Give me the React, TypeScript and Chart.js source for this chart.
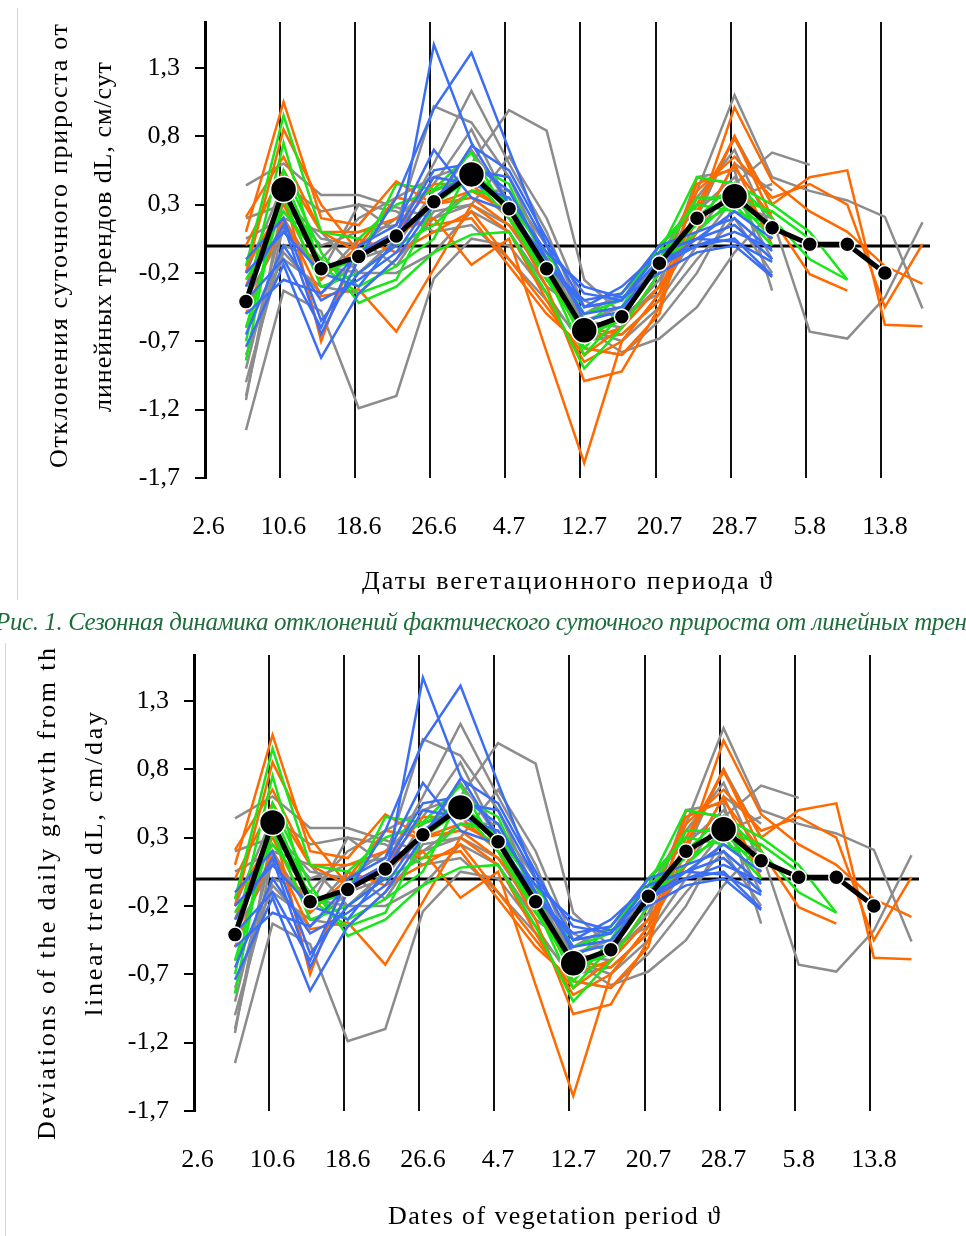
import React, { useEffect, useRef } from "react";
import { Chart, registerables } from "chart.js";

Chart.register(...registerables);

// Observation days counted from 2.6 (day 0), one point every 4 days
const DAYS = [4, 8, 12, 16, 20, 24, 28, 32, 36, 40, 44, 48, 52, 56, 60, 64, 68, 72, 76];
const TICK_DAYS = [0, 8, 16, 24, 32, 40, 48, 56, 64, 72];
const TICK_LABELS = ["2.6", "10.6", "18.6", "26.6", "4.7", "12.7", "20.7", "28.7", "5.8", "13.8"];
const Y_TICKS = [-1.7, -1.2, -0.7, -0.2, 0.3, 0.8, 1.3];
const BIG_POINT_DAYS = [8, 28, 40, 56];

// Mean deviation (black)
const mean = [-0.41, 0.41, -0.17, -0.08, 0.07, 0.32, 0.52, 0.27, -0.17, -0.62, -0.52, -0.13, 0.2, 0.36, 0.13, 0.01, 0.01, -0.2, null];

// Grey series
const gray1 = [0.44, 0.6, 0.37, 0.37, 0.28, 0.2, 0.3, 0.15, -0.25, -0.55, -0.6, -0.3, 0.1, 0.45, 0.68, 0.59, null, null, null];
const gray2 = [-1.35, -0.33, -0.48, -1.19, -1.1, -0.24, 0.05, 0.0, -0.35, -0.75, -0.8, -0.55, -0.2, 0.3, 0.2, -0.63, -0.68, -0.38, 0.17];
const gray3 = [-1.1, 0.15, -0.2, 0.3, 0.1, 0.6, 1.13, 0.6, 0.1, -0.55, -0.45, -0.1, 0.4, 1.1, 0.5, 0.4, 0.33, 0.21, -0.46];
const gray4 = [-1.0, 0.0, -0.1, 0.2, 0.35, 0.5, 0.6, 0.99, 0.84, -0.25, -0.5, -0.35, 0.1, 0.6, 0.4, null, null, null, null];
const gray5 = [0.2, 0.3, 0.0, 0.1, 0.15, 1.02, 0.9, 0.5, -0.1, -0.7, -0.6, -0.2, 0.2, 0.8, 0.3, null, null, null, null];
const gray6 = [-0.6, -0.1, -0.3, -0.35, -0.1, 0.2, 0.4, 0.4, 0.0, -0.6, -0.78, -0.68, -0.45, -0.05, 0.25, null, null, null, null];
const gray7 = [-0.9, 0.2, 0.1, -0.2, 0.05, 0.3, 0.7, 0.3, -0.2, -0.4, -0.55, -0.3, 0.5, 0.55, -0.33, null, null, null, null];
const gray8 = [-0.4, 0.1, -0.15, -0.2, -0.2, -0.05, 0.25, 0.1, -0.3, -0.5, -0.35, 0.0, 0.3, 0.4, -0.1, null, null, null, null];
const gray9 = [-1.13, 0.35, 0.05, 0.0, 0.2, 0.45, 0.85, 0.3, -0.05, -0.65, -0.55, -0.25, 0.35, 0.7, 0.1, null, null, null, null];
const gray10 = [-0.2, 0.45, 0.25, 0.3, 0.25, 0.1, 0.15, -0.1, -0.4, -0.7, -0.65, -0.4, 0.0, 0.35, 0.45, null, null, null, null];
const gray11 = [-0.8, -0.05, -0.35, -0.1, 0.0, 0.4, 0.5, 0.2, -0.1, -0.6, -0.7, -0.45, -0.1, 0.2, -0.2, null, null, null, null];
const gray12 = [0.05, 0.2, -0.25, 0.05, -0.15, 0.25, 0.3, 0.65, 0.2, -0.45, -0.4, 0.0, 0.25, 0.5, 0.05, null, null, null, null];

// Orange series
const orange1 = [0.1, 1.05, 0.2, 0.15, 0.47, 0.3, 0.35, 0.15, -0.2, -0.6, -0.65, -0.4, 0.2, 1.01, 0.47, 0.25, 0.1, -0.15, -0.28];
const orange2 = [0.21, 0.65, 0.1, -0.05, 0.1, 0.45, 0.45, 0.2, -0.3, -0.99, -0.92, -0.45, 0.3, 0.78, 0.3, 0.5, 0.55, -0.58, -0.59];
const orange3 = [-0.3, 0.4, -0.7, 0.05, -0.05, 0.1, 0.25, -0.1, -0.45, -0.8, -0.6, -0.2, 0.45, 0.57, 0.2, -0.21, -0.33, null, null];
const orange4 = [-0.5, 0.2, -0.37, -0.32, -0.63, -0.17, 0.3, 0.1, -0.4, -0.85, -0.7, -0.35, 0.4, 0.65, 0.35, 0.45, 0.3, -0.45, 0.01];
const orange5 = [-0.2, 0.85, 0.3, -0.05, 0.1, 0.2, -0.14, 0.05, -0.78, -1.59, -0.7, -0.35, 0.25, 0.8, 0.2, null, null, null, null];
const orange6 = [0.0, 0.55, 0.1, 0.1, 0.2, 0.15, 0.2, -0.15, -0.5, -0.75, -0.8, -0.5, 0.5, 0.45, 0.1, null, null, null, null];
const orange7 = [-0.15, 0.3, -0.25, 0.0, 0.35, 0.3, 0.4, 0.25, -0.2, -0.7, -0.6, -0.3, 0.1, 0.6, 0.0, null, null, null, null];

// Green series
const green1 = [-0.15, 0.95, 0.1, 0.05, 0.3, 0.4, 0.55, 0.3, -0.05, -0.5, -0.4, -0.05, 0.5, 0.45, 0.3, 0.1, -0.25, null, null];
const green2 = [-0.4, 0.75, -0.2, -0.1, 0.45, 0.41, 0.68, 0.2, -0.25, -0.65, -0.55, -0.1, 0.35, 0.35, 0.25, 0.05, null, null, null];
const green3 = [-0.84, 0.55, -0.05, -0.42, -0.3, -0.05, 0.08, 0.1, -0.35, -0.9, -0.6, -0.2, 0.2, 0.46, 0.2, -0.1, -0.25, null, null];
const green4 = [-0.6, 0.35, -0.3, -0.2, 0.0, 0.15, 0.4, 0.35, -0.1, -0.75, -0.45, 0.0, 0.3, 0.25, 0.15, null, null, null, null];
const green5 = [-0.25, 0.25, -0.1, -0.3, -0.15, 0.05, 0.6, 0.45, -0.15, -0.6, -0.35, -0.05, 0.15, 0.3, 0.0, null, null, null, null];
const green6 = [-0.7, 0.5, -0.15, -0.35, -0.25, 0.3, 0.5, 0.2, -0.2, -0.8, -0.5, -0.15, 0.1, 0.35, 0.05, null, null, null, null];

// Blue series
const blue1 = [-0.1, 0.2, -0.55, -0.2, 0.0, 1.47, 0.75, 0.3, -0.15, -0.4, -0.35, 0.0, 0.1, 0.2, -0.04, null, null, null, null];
const blue2 = [-0.3, 0.15, -0.65, -0.1, 0.35, 1.0, 1.41, 0.7, 0.0, -0.35, -0.4, -0.05, 0.05, 0.15, -0.1, null, null, null, null];
const blue3 = [-0.74, -0.14, -0.82, -0.35, -0.1, 0.3, 0.73, 0.55, 0.05, -0.45, -0.4, -0.1, 0.0, 0.05, -0.22, null, null, null, null];
const blue4 = [-0.5, -0.25, -0.35, -0.05, 0.1, 0.55, 0.6, 0.4, -0.1, -0.5, -0.45, -0.15, 0.05, 0.03, -0.12, null, null, null, null];
const blue5 = [-0.2, 0.1, -0.2, -0.3, 0.05, 0.5, 0.45, 0.35, -0.05, -0.3, -0.38, -0.2, -0.05, 0.0, -0.23, null, null, null, null];
const blue6 = [-0.65, 0.0, -0.4, -0.25, -0.05, 0.35, 0.55, 0.5, 0.0, -0.55, -0.48, -0.15, 0.0, 0.1, -0.02, null, null, null, null];
const blue7 = [-0.4, -0.1, -0.6, 0.0, 0.15, 0.7, 0.35, 0.25, -0.1, -0.45, -0.3, -0.05, 0.05, 0.25, 0.05, null, null, null, null];

const GRAY = [gray1, gray2, gray3, gray4, gray5, gray6, gray7, gray8, gray9, gray10, gray11, gray12];
const ORANGE = [orange1, orange2, orange3, orange4, orange5, orange6, orange7];
const GREEN = [green1, green2, green3, green4, green5, green6];
const BLUE = [blue1, blue2, blue3, blue4, blue5, blue6, blue7];

const SERIF = '"Liberation Serif", "Times New Roman", serif';

const toPts = (vals: (number | null)[]) =>
  vals
    .map((v, i) => (v == null ? null : { x: DAYS[i], y: v }))
    .filter((p): p is { x: number; y: number } => p !== null);

const refLines = {
  id: "refLines",
  beforeDatasetsDraw(chart: any) {
    const { ctx, chartArea: a, scales } = chart;
    const x = scales.x;
    const y = scales.y;
    ctx.save();
    ctx.strokeStyle = "#111";
    ctx.lineWidth = 2;
    TICK_DAYS.slice(1).forEach((d) => {
      const px = Math.round(x.getPixelForValue(d - 0.4));
      ctx.beginPath();
      ctx.moveTo(px, a.top);
      ctx.lineTo(px, a.bottom);
      ctx.stroke();
    });
    ctx.strokeStyle = "#000";
    ctx.lineWidth = 3;
    const py = Math.round(y.getPixelForValue(0));
    ctx.beginPath();
    ctx.moveTo(a.left, py);
    ctx.lineTo(a.right, py);
    ctx.stroke();
    ctx.restore();
  },
};

function makeConfig(): any {
  const datasets: any[] = [];
  const add = (group: (number | null)[][], color: string, order: number) =>
    group.forEach((s) =>
      datasets.push({
        data: toPts(s),
        borderColor: color,
        borderWidth: 2.5,
        pointRadius: 0,
        fill: false,
        tension: 0,
        order,
      })
    );
  add(GRAY, "#8c8c8c", 4);
  add(ORANGE, "#ff6a00", 3);
  add(GREEN, "#18e618", 2);
  add(BLUE, "#3b6ef5", 1);
  const mp = toPts(mean);
  datasets.push({
    data: mp,
    borderColor: "#000",
    borderWidth: 5,
    pointRadius: mp.map((p) => (BIG_POINT_DAYS.includes(p.x) ? 13 : 7.5)),
    pointBackgroundColor: "#000",
    pointBorderColor: "#fff",
    pointBorderWidth: 1.5,
    fill: false,
    tension: 0,
    order: 0,
  });

  return {
    type: "line",
    data: { datasets },
    plugins: [refLines],
    options: {
      responsive: false,
      animation: false,
      devicePixelRatio: 1,
      layout: { padding: { top: 22, right: 36, left: 0, bottom: 0 } },
      plugins: { legend: { display: false }, tooltip: { enabled: false } },
      scales: {
        x: {
          type: "linear",
          min: -0.36,
          max: 76.8,
          afterBuildTicks: (s: any) => {
            s.ticks = TICK_DAYS.map((v) => ({ value: v }));
          },
          afterFit: (s: any) => {
            s.height = 122;
            s.paddingLeft = 0;
            s.paddingRight = 0;
          },
          grid: { display: false, drawTicks: false },
          border: { display: false },
          ticks: {
            padding: 34,
            autoSkip: false,
            maxRotation: 0,
            color: "#000",
            font: { family: SERIF, size: 26 },
            callback: (v: number) => {
              const i = TICK_DAYS.indexOf(v);
              return i >= 0 ? TICK_LABELS[i] : "";
            },
          },
        },
        y: {
          min: -1.7,
          max: 1.635,
          afterBuildTicks: (s: any) => {
            s.ticks = Y_TICKS.map((v) => ({ value: v }));
          },
          afterFit: (s: any) => {
            s.width = 205;
            s.paddingTop = 0;
            s.paddingBottom = 0;
          },
          grid: { drawOnChartArea: false, drawTicks: true, tickLength: 10, color: "#000", lineWidth: 2 },
          border: { display: true, color: "#000", width: 3 },
          ticks: {
            padding: 15,
            autoSkip: false,
            color: "#000",
            font: { family: SERIF, size: 26 },
            callback: (v: number) => Number(v).toFixed(1).replace(".", ","),
          },
        },
      },
    },
  };
}

function Panel({ left, top }: { left: number; top: number }) {
  const ref = useRef<HTMLCanvasElement | null>(null);
  useEffect(() => {
    if (!ref.current) return;
    const c = new Chart(ref.current, makeConfig());
    return () => c.destroy();
  }, []);
  return (
    <canvas
      ref={ref}
      width={966}
      height={600}
      style={{ position: "absolute", left, top, width: 966, height: 600 }}
    />
  );
}

function VText({ cx, cy, len, text, size = 26 }: { cx: number; cy: number; len: number; text: string; size?: number }) {
  return (
    <text
      x={cx}
      y={cy}
      fontFamily={SERIF}
      fontSize={size}
      fill="#000"
      textAnchor="middle"
      dominantBaseline="central"
      textLength={len}
      lengthAdjust="spacing"
      transform={`rotate(-90 ${cx} ${cy})`}
    >
      {text}
    </text>
  );
}

function HText({ cx, cy, len, text, size = 26 }: { cx: number; cy: number; len: number; text: string; size?: number }) {
  return (
    <text
      x={cx}
      y={cy}
      fontFamily={SERIF}
      fontSize={size}
      fill="#000"
      textAnchor="middle"
      dominantBaseline="central"
      textLength={len}
      lengthAdjust="spacing"
    >
      {text}
    </text>
  );
}

export default function App() {
  return (
    <div
      style={{
        position: "absolute",
        left: 0,
        top: 0,
        width: 966,
        height: 1236,
        overflow: "hidden",
        background: "#fff",
      }}
    >
      <div style={{ position: "absolute", left: 17, top: 8, width: 1, height: 592, background: "#d4d4d4" }} />
      <div style={{ position: "absolute", left: 5, top: 643, width: 1, height: 593, background: "#d4d4d4" }} />
      <Panel left={0} top={0} />
      <Panel left={-11} top={633} />
      <svg
        width={966}
        height={1236}
        style={{ position: "absolute", left: 0, top: 0, pointerEvents: "none" }}
      >
        <VText cx={58} cy={246} len={444} text="Отклонения суточного прироста от" />
        <VText cx={102} cy={237} len={350} text="линейных трендов dL, см/сут" />
        <HText cx={567} cy={580} len={410} text="Даты вегетационного периода ϑ" />
        <text
          x={-5}
          y={621}
          fontFamily={SERIF}
          fontSize={25}
          fontStyle="italic"
          fill="#1e6e3c"
          dominantBaseline="central"
          textLength={972}
          lengthAdjust="spacing"
        >
          Рис. 1. Сезонная динамика отклонений фактического суточного прироста от линейных трен
        </text>
        <VText cx={46} cy={894} len={492} text="Deviations of the daily growth from th" />
        <VText cx={93} cy={864} len={304} text="linear trend dL, cm/day" />
        <HText cx={554} cy={1215} len={332} text="Dates of vegetation period ϑ" />
      </svg>
    </div>
  );
}
